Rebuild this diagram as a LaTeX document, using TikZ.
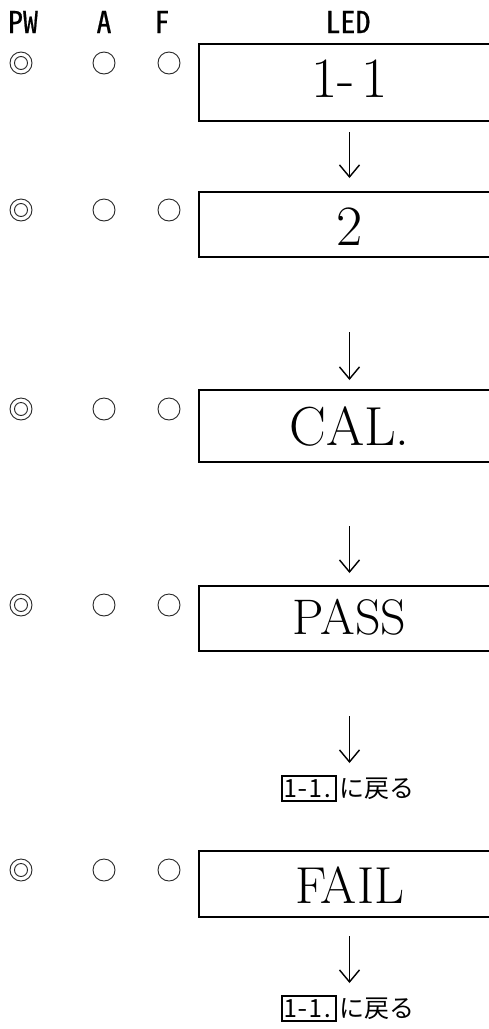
\documentclass[tikz,border=0pt]{standalone}
\usepackage{fontspec}
\newfontfamily\jp{Noto Sans CJK JP}
\newfontfamily\hw[RawFeature=+hwid]{Noto Sans CJK JP}
\newfontfamily\hwb[RawFeature=+hwid, FakeBold=0.6]{Noto Sans CJK JP}
\usetikzlibrary{arrows.meta}
\begin{document}
\begin{tikzpicture}[x=1pt,y=-1pt,
  hdr/.style={font=\hwb\fontsize{30}{32}\selectfont, anchor=base, inner sep=0pt},
  lamp/.style={draw=black!85, line width=0.9pt},
  ledbox/.style={draw, line width=1.9pt, anchor=north west, minimum width=320, inner sep=0pt, outer sep=0pt},
  ledtxt/.style={anchor=base, inner sep=0pt},
  arr/.style={line width=1.1pt, -{Straight Barb[length=12pt,width=20pt,line width=1.4pt]}},
  retbox/.style={draw, line width=1.3pt, font=\hw\fontsize{25}{27}\selectfont, anchor=north west, minimum width=54, minimum height=25, inner sep=1pt, outer sep=0pt},
  rettxt/.style={font=\jp\fontsize{25}{27}\selectfont, anchor=base west, inner sep=0pt}]
\useasboundingbox (0,0) rectangle (489,1029);
\clip (0,0) rectangle (489,1029);
% header
\node[hdr] (hpw) at (23,33) {PW};
\node[hdr] (ha) at (104,33) {A};
\node[hdr] (hf) at (162,33) {F};
\node[hdr] (hled) at (348,33) {LED};
% lamps
\foreach \y/\n in {63/1,210/2,409/3,605/4,870/5}{
  \draw[lamp] (21,\y) circle (11);
  \draw[lamp] (21,\y) circle (6.5);
  \draw[lamp] (104,\y) circle (11);
  \draw[lamp] (169,\y) circle (11);
}
% LED boxes
\node[ledbox, minimum height=77] (b1) at (199,44) {};
\node[ledbox, minimum height=65] (b2) at (199,192) {};
\node[ledbox, minimum height=72] (b3) at (199,390) {};
\node[ledbox, minimum height=65] (b4) at (199,586) {};
\node[ledbox, minimum height=66] (b5) at (199,851) {};
% LED texts
\node[ledtxt, font=\fontsize{57}{60}\selectfont] (t1) at (349.5,97) {1-\hspace{0.12em}1};
\node[ledtxt, font=\fontsize{57}{60}\selectfont] (t2) at (349.5,245) {2};
\node[ledtxt, font=\fontsize{55}{58}\selectfont] (t3) at (349.5,445) {CAL.};
\node[ledtxt, font=\fontsize{50}{52}\selectfont] (t4) at (349.5,634) {PASS};
\node[ledtxt, font=\fontsize{52}{55}\selectfont] (t5) at (349.5,903) {FAIL};
% arrows
\coordinate (a1s) at (349.5,132); \coordinate (a1e) at (349.5,178);
\coordinate (a2s) at (349.5,332); \coordinate (a2e) at (349.5,380);
\coordinate (a3s) at (349.5,526); \coordinate (a3e) at (349.5,573);
\coordinate (a4s) at (349.5,716); \coordinate (a4e) at (349.5,763);
\coordinate (a5s) at (349.5,936); \coordinate (a5e) at (349.5,983);
\draw[arr] (a1s) -- (a1e);
\draw[arr] (a2s) -- (a2e);
\draw[arr] (a3s) -- (a3e);
\draw[arr] (a4s) -- (a4e);
\draw[arr] (a5s) -- (a5e);
% return labels
\node[retbox] (r1) at (282,776) {1-1.};
\node[rettxt] (g1) at ([xshift=3pt]r1.base east) {に戻る};
\node[retbox] (r2) at (282,996) {1-1.};
\node[rettxt] (g2) at ([xshift=3pt]r2.base east) {に戻る};
\end{tikzpicture}
\end{document}
